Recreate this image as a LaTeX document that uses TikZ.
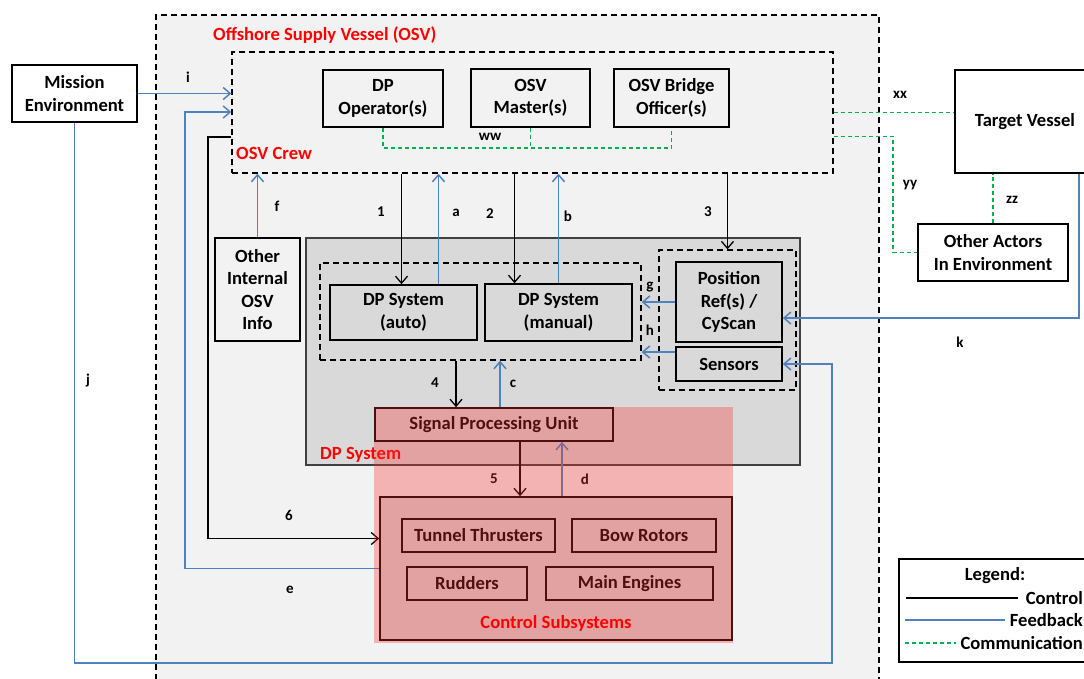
\documentclass[tikz,border=0pt]{standalone}
\usepackage{fontspec}
\setmainfont{Carlito}
\usetikzlibrary{arrows.meta}
\definecolor{osvgray}{HTML}{F2F2F2}
\definecolor{dpgray}{HTML}{D9D9D9}
\definecolor{fbblue}{HTML}{4F81BD}
\definecolor{commgreen}{HTML}{00B050}
\definecolor{ovred}{RGB}{248,48,48}
\newcommand{\boxfont}{\bfseries\fontsize{18.6}{22.5}\selectfont}
\newcommand{\lblfont}{\bfseries\fontsize{15}{18}\selectfont}
\tikzset{
  box/.style={draw, line width=1.6pt, align=center, inner sep=2pt, font=\boxfont},
  grpbox/.style={draw, dash pattern=on 6pt off 4pt, line width=1.3pt, inner sep=0pt},
  redtitle/.style={text=red, font=\boxfont, inner sep=0pt},
  lbl/.style={font=\lblfont, inner sep=0pt},
  arr/.style={-{Straight Barb[length=7pt,width=12pt]}},
  ctrlline/.style={draw=black, line width=1.3pt},
  fbline/.style={draw=fbblue, line width=1.5pt},
  commline/.style={draw=commgreen, dash pattern=on 4pt off 3pt, line width=1.2pt}
}
\begin{document}
\begin{tikzpicture}[x=1pt,y=-1pt]
    \useasboundingbox (0,0) rectangle (1084,679);
    % OSV
    \node[grpbox, fill=osvgray, minimum width=723, minimum height=685] (osv) at (517.5,357.5) {};
    \node[redtitle, anchor=west] (osvtitle) at (213,35) {Offshore Supply Vessel (OSV)};
    % OSV crew
    \node[grpbox, minimum width=601, minimum height=121] (crew) at (532.5,112.5) {};
    \node[redtitle, anchor=west] (crewtitle) at (236,153) {OSV Crew};
    \node[box, fill=osvgray, minimum width=120, minimum height=57] (dpop) at (383,98.5) {DP\\Operator(s)};
    \node[box, fill=osvgray, minimum width=119, minimum height=58] (master) at (530.5,98) {OSV\\Master(s)};
    \node[box, fill=osvgray, minimum width=115, minimum height=58] (bridge) at (671.5,98) {OSV Bridge\\Officer(s)};
    \node[box, fill=osvgray, minimum width=85, minimum height=103] (otherinfo) at (257.5,289.5) {Other\\Internal\\OSV\\Info};
    % DP system
    \node[draw=black!75, line width=1.6pt, fill=dpgray, minimum width=494, minimum height=227] (dpsys) at (553,351.5) {};
    \node[redtitle, anchor=west] (dptitle) at (320,455) {DP System};
    \node[grpbox, minimum width=321, minimum height=97] (dpinner) at (480.5,311.5) {};
    \node[box, fill=dpgray, minimum width=147, minimum height=55] (auto) at (403.5,312.5) {DP System\\(auto)};
    \node[box, fill=dpgray, minimum width=147, minimum height=57] (manual) at (558.5,312.5) {DP System\\(manual)};
    \node[grpbox, minimum width=137, minimum height=140] (sensgrp) at (727.5,320) {};
    \node[box, fill=dpgray, minimum width=106, minimum height=80] (posref) at (729,302) {Position\\Ref(s) /\\CyScan};
    \node[box, fill=dpgray, minimum width=106, minimum height=34] (sensors) at (729,364) {Sensors};
    \node[box, fill=dpgray, minimum width=238, minimum height=33] (spu) at (494,424.5) {Signal Processing Unit};
    % control subsystems
    \node[box, fill=dpgray, minimum width=352, minimum height=143] (csys) at (556,568.5) {};
    \node[box, fill=dpgray, minimum width=153, minimum height=33] (tunnel) at (478.5,535.5) {Tunnel Thrusters};
    \node[box, fill=dpgray, minimum width=144, minimum height=33] (bow) at (644,535.5) {Bow Rotors};
    \node[box, fill=dpgray, minimum width=120, minimum height=33] (rudders) at (467,583.5) {Rudders};
    \node[box, fill=dpgray, minimum width=167, minimum height=33] (engines) at (629.5,583.5) {Main Engines};
    % outside actors
    \node[box, fill=white, minimum width=125, minimum height=57] (mission) at (74.5,93.5) {Mission\\Environment};
    \node[box, fill=white, minimum width=140, minimum height=103] (target) at (1025,121.5) {Target Vessel};
    \node[box, fill=white, minimum width=150, minimum height=57] (actors) at (993,252.5) {Other Actors\\In Environment};

    % bends
    \coordinate (wwbus) at (531,148);
    \coordinate (ebend) at (185,112);
    \coordinate (sixbend) at (208,137);
    \coordinate (jbend) at (832,663);
    \coordinate (yybend) at (893,200);

    % control
    \draw[ctrlline, arr] ([xshift=-2pt]auto.north |- crew.south) -- ([xshift=-2pt]auto.north);
    \draw[ctrlline, arr] ([xshift=-44pt]manual.north |- crew.south) -- ([xshift=-44pt]manual.north);
    \draw[ctrlline, arr] (sensgrp.north |- crew.south) -- (sensgrp.north);
    \draw[ctrlline, arr] ([xshift=-38pt]spu.north |- dpinner.south) -- ([xshift=-38pt]spu.north);
    \draw[ctrlline, arr] ([xshift=26pt]spu.south) -- ([xshift=26pt]spu.south |- csys.north);
    \draw[ctrlline, arr] (sixbend -| crew.west) -- (sixbend) |- ([yshift=30pt]csys.west);
    % feedback
    \draw[fbline, arr] ([xshift=35pt]auto.north) -- ([xshift=35pt]auto.north |- crew.south);
    \draw[fbline, arr] (manual.north) -- (manual.north |- crew.south);
    \draw[fbline, arr] ([xshift=6pt]spu.north) -- ([xshift=6pt]spu.north |- dpinner.south);
    \draw[fbline, arr] ([xshift=68pt]csys.north -| spu.south) -- ([xshift=68pt]spu.south);
    \draw[fbline, arr] (posref.west) -- (posref.west -| dpinner.east);
    \draw[fbline, arr] ([yshift=12pt]sensors.west) -- ([yshift=12pt]sensors.west -| dpinner.east);
    \draw[fbline, arr] (otherinfo.north) -- (otherinfo.north |- crew.south);
    \draw[fbline, arr] (mission.east) -- (mission.east -| crew.west);
    \draw[fbline, arr] (csys.west) -| (ebend) -- (ebend -| crew.west);
    \draw[fbline, arr] (mission.south) |- (jbend) |- (sensors.east);
    \draw[fbline, arr] ([xshift=54pt]target.south) |- ([yshift=-16pt]posref.east);
    % communication
    \draw[commline] (dpop.south) |- (wwbus) -| (bridge.south);
    \draw[commline] (master.south) -- (master.south |- wwbus);
    \draw[commline] (crew.east) -- (crew.east -| target.west);
    \draw[commline] ([yshift=-24pt]crew.east) -| (yybend) |- (actors.west);
    \draw[commline] (actors.north) -- (actors.north |- target.south);

    % labels
    \node[lbl] (li) at (188,77) {i};
    \node[lbl] (lww) at (490,137) {ww};
    \node[lbl] (lf) at (277,206) {f};
    \node[lbl] (l1) at (381,212) {1};
    \node[lbl] (la) at (456,213) {a};
    \node[lbl] (l2) at (490,214) {2};
    \node[lbl] (lb) at (568,216) {b};
    \node[lbl] (l3) at (708,212) {3};
    \node[lbl] (lg) at (650,287) {g};
    \node[lbl] (lh) at (650,330) {h};
    \node[lbl] (l4) at (435,383) {4};
    \node[lbl] (lc) at (513,384) {c};
    \node[lbl] (l5) at (494,479) {5};
    \node[lbl] (ld) at (585,479) {d};
    \node[lbl] (l6) at (289,515) {6};
    \node[lbl] (le) at (290,590) {e};
    \node[lbl] (lj) at (88,381) {j};
    \node[lbl] (lk) at (960,342) {k};
    \node[lbl] (lxx) at (900,95) {xx};
    \node[lbl] (lyy) at (910,185) {yy};
    \node[lbl] (lzz) at (1012,200) {zz};

    % control zone shading
    \fill[ovred, opacity=0.32] (spu.north west) rectangle ([yshift=-2pt]csys.south east);
    \node[redtitle] (csystitle) at (556,623) {Control Subsystems};

    % legend
    \node[box, fill=white, minimum width=201, minimum height=103] (legend) at (999.5,610.5) {};
    \node[font=\boxfont, inner sep=0pt] (legtitle) at (995,576) {Legend:};
    \node[font=\boxfont, inner sep=0pt, anchor=east] (legctrl) at (1083,598) {Control};
    \node[font=\boxfont, inner sep=0pt, anchor=east] (legfb) at (1083,620) {Feedback};
    \node[font=\boxfont, inner sep=0pt, anchor=east] (legcomm) at (1083,643) {Communication};
    \draw[ctrlline] ([xshift=8pt]legctrl.west -| legend.west) -- ([xshift=-8pt]legctrl.west);
    \draw[fbline] ([xshift=7pt]legfb.west -| legend.west) -- ([xshift=-5pt]legfb.west);
    \draw[commline] ([xshift=7pt]legcomm.west -| legend.west) -- ([xshift=-4pt]legcomm.west);
\end{tikzpicture}
\end{document}
